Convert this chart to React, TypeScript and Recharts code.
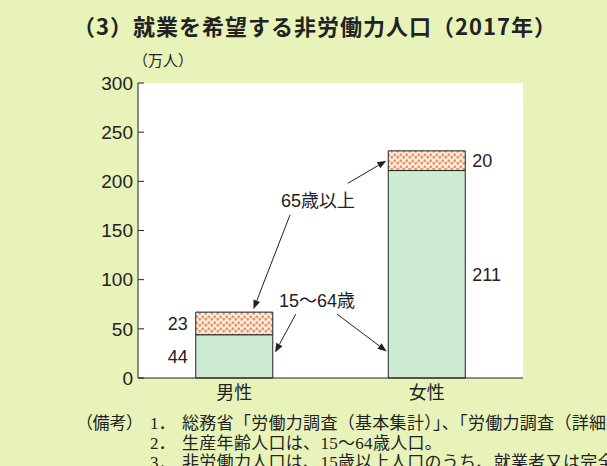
import React from "react"
import {
  BarChart, Bar, XAxis, YAxis, CartesianGrid, LabelList, ReferenceLine, ReferenceDot,
} from "recharts"

// 就業を希望する非労働力人口（2017年）, 万人
const categories = ["男性", "女性"]
const age15to64 = [44, 211]
const age65plus = [23, 20]
const yTicks = [0, 50, 100, 150, 200, 250, 300]

// callouts on a hidden 0..1 axis that spans the plot width
const callouts = [
  { text: "65歳以上", x: 0.4675, y: 180 },
  { text: "15～64歳", x: 0.465, y: 79 },
]
const arrows = [
  { x1: 0.395, y1: 166, x2: 0.3, y2: 70 },
  { x1: 0.545, y1: 198, x2: 0.645, y2: 221 },
  { x1: 0.41, y1: 65, x2: 0.356, y2: 26 },
  { x1: 0.517, y1: 65, x2: 0.646, y2: 27 },
]

const notes = [
  "総務省「労働力調査（基本集計）」、「労働力調査（詳細集計）」により作成。",
  "生産年齢人口は、15～64歳人口。",
  "非労働力人口は、15歳以上人口のうち、就業者又は完全失業者以外の者。",
]

const data = categories.map((name, i) => ({
  name,
  young: age15to64[i],
  old: age65plus[i],
}))

const C = {
  bg: "#e7f3b9",
  green: "#cdebd1",
  orange: "#e5834a",
  ink: "#222",
}

const FONT = "'Liberation Sans', 'Noto Sans CJK JP', sans-serif"
const CJK = "'Noto Sans CJK JP', sans-serif"

function Arrow(p: any) {
  const { x1, y1, x2, y2 } = p
  const a = Math.atan2(y2 - y1, x2 - x1)
  const L = 9, W = 3.5
  const bx = x2 - L * Math.cos(a), by = y2 - L * Math.sin(a)
  const pts = [
    [x2, y2],
    [bx + W * Math.sin(a), by - W * Math.cos(a)],
    [bx - W * Math.sin(a), by + W * Math.cos(a)],
  ].map(q => q.join(",")).join(" ")
  return (
    <g>
      <line x1={x1} y1={y1} x2={bx} y2={by} stroke={C.ink} strokeWidth={1} />
      <polygon points={pts} fill={C.ink} />
    </g>
  )
}

// labels sit left of the first bar, right of the second
function sideLabel(props: any) {
  const { x, y, width, height, value, index } = props
  const left = index === 0
  return (
    <text
      x={left ? x - 8 : x + width + 7}
      y={y + height / 2}
      dy="0.36em"
      textAnchor={left ? "end" : "start"}
      fontSize={18}
      fill={C.ink}
      fontFamily={FONT}
    >
      {value}
    </text>
  )
}

export default function App() {
  return (
    <div
      style={{
        position: "fixed", left: 0, top: 0, width: 607, height: 466,
        background: C.bg, overflow: "hidden", fontFamily: FONT, color: C.ink,
      }}
    >
      <div style={{ position: "absolute", left: 73, top: 9, fontSize: 22, letterSpacing: 1, fontWeight: 700, fontFamily: CJK, whiteSpace: "nowrap" }}>
        （3）就業を希望する非労働力人口（2017年）
      </div>
      <div style={{ position: "absolute", left: 133, top: 49, fontSize: 15, fontFamily: CJK }}>
        （万人）
      </div>

      <BarChart
        width={607}
        height={412}
        data={data}
        margin={{ top: 83, right: 84, bottom: 0, left: 0 }}
        barCategoryGap="30%"
        style={{ position: "absolute", left: 0, top: 0 }}
      >
        <defs>
          <pattern id="dots65" width="6" height="6" patternUnits="userSpaceOnUse">
            <rect width="6" height="6" fill="#fbeadc" />
            <path d="M0 0.3 L3.6 0.3 L1.8 3.2 Z" fill={C.orange} />
            <path d="M3 5.8 L6.6 5.8 L4.8 2.9 Z" fill={C.orange} />
          </pattern>
        </defs>
        <CartesianGrid horizontal={false} vertical={false} fill="#fff" fillOpacity={1} />
        <XAxis
          dataKey="name"
          height={34}
          axisLine={{ stroke: C.ink }}
          tickLine={false}
          tick={{ fill: C.ink, fontSize: 18 }}
        />
        <XAxis
          xAxisId="ann"
          type="number"
          domain={[0, 1]}
          allowDataOverflow
          orientation="top"
          height={0}
          tick={false}
          tickLine={false}
          axisLine={{ stroke: C.ink }}
        />
        <YAxis
          width={138}
          domain={[0, 300]}
          ticks={yTicks}
          interval={0}
          axisLine={{ stroke: C.ink }}
          tickLine={{ stroke: C.ink }}
          tickSize={-6}
          tickMargin={11}
          tick={{ fill: C.ink, fontSize: 19 }}
        />
        <YAxis
          yAxisId="r"
          orientation="right"
          width={0}
          domain={[0, 300]}
          tick={false}
          tickLine={false}
          axisLine={{ stroke: C.ink }}
        />
        <Bar dataKey="young" stackId="a" fill={C.green} stroke={C.ink} strokeWidth={1} isAnimationActive={false}>
          <LabelList dataKey="young" content={sideLabel} />
        </Bar>
        <Bar dataKey="old" stackId="a" fill="url(#dots65)" stroke={C.ink} strokeWidth={1} isAnimationActive={false}>
          <LabelList dataKey="old" content={sideLabel} />
        </Bar>
        {arrows.map((a, i) => (
          <ReferenceLine
            key={i}
            xAxisId="ann"
            segment={[{ x: a.x1, y: a.y1 }, { x: a.x2, y: a.y2 }]}
            shape={Arrow}
          />
        ))}
        {callouts.map(c => (
          <ReferenceDot
            key={c.text}
            xAxisId="ann"
            x={c.x}
            y={c.y}
            r={1}
            fill="none"
            stroke="none"
            label={{ value: c.text, position: "center", fontSize: 18, fill: C.ink }}
          />
        ))}
      </BarChart>

      <div style={{ position: "absolute", left: 0, top: 414, fontSize: 17, lineHeight: "19.5px", letterSpacing: 0.3, fontFamily: "'Liberation Serif', " + CJK, whiteSpace: "nowrap" }}>
        {notes.map((n, i) => (
          <div key={i} style={{ display: "flex" }}>
            <span style={{ width: 84, flex: "none" }} />
            <span style={{ width: 66, flex: "none", letterSpacing: 0, fontFeatureSettings: "'palt'" }}>{i === 0 ? "（備考）" : ""}</span>
            <span style={{ width: 32, flex: "none", letterSpacing: 0 }}>{i + 1}．</span>
            <span>{n}</span>
          </div>
        ))}
      </div>
    </div>
  )
}
